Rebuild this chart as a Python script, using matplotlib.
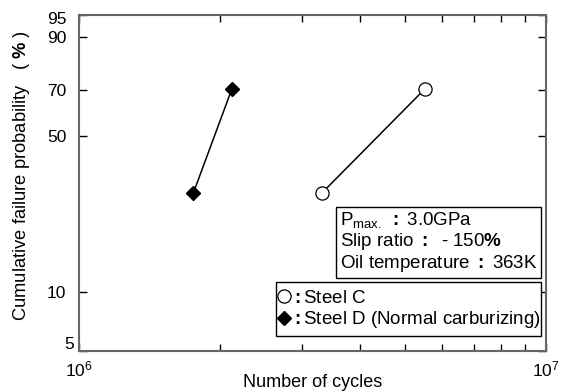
import numpy as np
import matplotlib
matplotlib.use("Agg")
import matplotlib.pyplot as plt
from matplotlib.lines import Line2D
from matplotlib.patches import Rectangle
from matplotlib.transforms import ScaledTranslation

plt.rcParams['font.family'] = ['Liberation Sans', 'DejaVu Sans']
plt.rcParams['mathtext.fontset'] = 'custom'
plt.rcParams['mathtext.rm'] = 'Liberation Sans'
plt.rcParams['mathtext.it'] = 'Liberation Sans:italic'
plt.rcParams['mathtext.bf'] = 'Liberation Sans:bold'

# Lebensdauer (Zyklen) und kumulierte Ausfallwahrscheinlichkeit (%)
zyklen_stahl_c = [3.31e6, 5.51e6]
ausfall_stahl_c = [29.3, 70.7]
zyklen_stahl_d = [1.757e6, 2.126e6]
ausfall_stahl_d = [29.3, 70.7]

y_ticks = [5, 10, 50, 70, 90, 95]


# Weibull-Skala fuer die y-Achse
def weibull_fwd(p):
    p = np.clip(np.asarray(p, dtype=float), 1e-6, 100 - 1e-6)
    return np.log(-np.log(1 - p / 100))


def weibull_inv(y):
    return 100 * (1 - np.exp(-np.exp(y)))


fig = plt.figure(figsize=(5.68, 3.92), dpi=100)
ax = fig.add_axes([79 / 568, 1 - 351 / 392, 467 / 568, 336 / 392])

ax.plot(zyklen_stahl_c, ausfall_stahl_c, color='black', lw=1.1,
        marker='o', ms=9.5, mfc='white', mec='black', mew=0.9, zorder=3)
ax.plot(zyklen_stahl_d, ausfall_stahl_d, color='black', lw=1.1,
        marker='D', ms=7.5, mfc='black', mec='black', zorder=3)

ax.set_xscale('log')
ax.set_xlim(1e6, 1e7)
ax.set_yscale('function', functions=(weibull_fwd, weibull_inv))
ax.set_ylim(5, 95)
ax.set_yticks(y_ticks)
ax.set_yticklabels([str(t) for t in y_ticks])
ax.yaxis.set_minor_locator(matplotlib.ticker.NullLocator())
ax.set_xticks([1e6, 1e7])
ax.set_xticks([k * 1e6 for k in range(2, 10)], minor=True)
ax.xaxis.set_minor_formatter(matplotlib.ticker.NullFormatter())

ax.tick_params(which='both', direction='in', top=True, right=True,
               color='black', width=1.0, labelsize=12.5)
ax.tick_params(which='major', length=6)
ax.tick_params(which='minor', length=5)
ax.tick_params(axis='y', pad=9)
ax.tick_params(axis='x', pad=6)

for s in ax.spines.values():
    s.set_color('#666666')
    s.set_linewidth(1.5)

# Beschriftungen 5 und 95 etwas verschieben
for tick in ax.yaxis.get_major_ticks():
    lbl = tick.label1
    if lbl.get_text() == '5':
        lbl.set_transform(lbl.get_transform() + ScaledTranslation(8 / 100, 8 / 100, fig.dpi_scale_trans))
    elif lbl.get_text() == '95':
        lbl.set_transform(lbl.get_transform() + ScaledTranslation(0, -3 / 100, fig.dpi_scale_trans))

ax.set_xlabel('Number of cycles', fontsize=13, labelpad=-4)
fig.text(22 / 568, 1 - 176 / 392, r'Cumulative failure probability   ( $\mathbf{\%}$ )',
         rotation=90, ha='center', va='center', fontsize=13.2)

# Versuchsbedingungen
ax.text((340 - 79) / 467, (351 - 242) / 336,
        r'P$_{\mathrm{max.}}$ $\mathbf{:}$ 3.0GPa' + '\n'
        + r'Slip ratio $\mathbf{:}$  - 150$\mathbf{\%}$' + '\n'
        + r'Oil temperature $\mathbf{:}$ 363K',
        transform=ax.transAxes, ha='left', va='center', fontsize=13.5,
        linespacing=1.08,
        bbox=dict(boxstyle='square,pad=0.2', fc='white', ec='black', lw=1.0))

# Legende: Rahmen separat, Eintraege ohne Rahmen
ax.add_patch(Rectangle((276 / 568, 1 - 336 / 392), 265 / 568, 54 / 392,
                       transform=fig.transFigure, fc='white', ec='black',
                       lw=1.0, zorder=4, clip_on=False))
handles = [
    Line2D([], [], ls='none', marker='o', ms=9.5, mfc='white', mec='black', mew=0.9),
    Line2D([], [], ls='none', marker='D', ms=7.5, mfc='black', mec='black'),
]
labels = [r'$\mathbf{:}$Steel C', r'$\mathbf{:}$Steel D (Normal carburizing)']
leg = ax.legend(handles, labels, loc='center left',
                bbox_to_anchor=(277 / 568, 1 - 310 / 392), bbox_transform=fig.transFigure,
                fontsize=13.5, frameon=False,
                handlelength=0.74, handletextpad=0.0, borderpad=0.0,
                labelspacing=0.12, borderaxespad=0)
leg.set_zorder(5)

fig.savefig('out.png', dpi=100)
